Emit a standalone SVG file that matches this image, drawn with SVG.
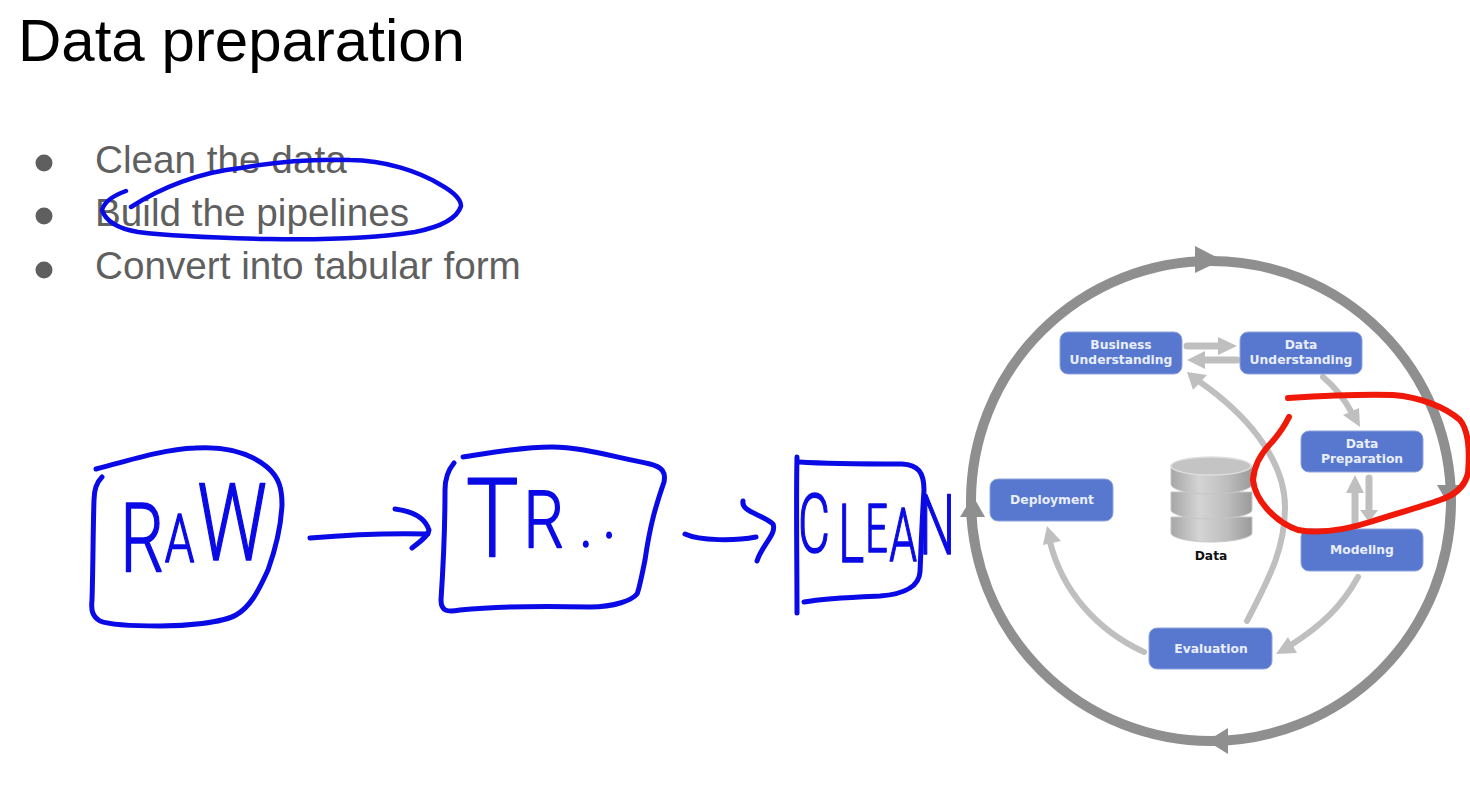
<svg xmlns="http://www.w3.org/2000/svg" width="1470" height="786" viewBox="0 0 1470 786">
<style>
.title{font:60px "Liberation Sans",Arial,sans-serif;fill:#000}
.bul{font:38.7px "Liberation Sans",Arial,sans-serif;fill:#5f5f5f}
.box{fill:#5878cf;stroke:#8ea3dc;stroke-width:1}
.lab{font:bold 12.3px "DejaVu Sans",Verdana,sans-serif;fill:#e9eefa;text-anchor:middle}
.dat{font:bold 12.3px "DejaVu Sans",Verdana,sans-serif;fill:#111;text-anchor:middle}
.ring{fill:none;stroke:#8f8f8f;stroke-width:10}
.ringh{fill:#8f8f8f}
.c{fill:none;stroke:#bfbfbf;stroke-width:6;stroke-linecap:round}
.s{stroke-width:7}
.h{fill:#bfbfbf}
.ink{fill:none;stroke:#0a0ae6;stroke-width:5;stroke-linecap:round;stroke-linejoin:round}
.red{fill:none;stroke:#f01808;stroke-width:6;stroke-linecap:round;stroke-linejoin:round}
.hand{font-family:Roboto,"Liberation Sans",sans-serif;font-weight:300;fill:#0a0ae6;stroke:#0a0ae6;stroke-width:1.6;stroke-linejoin:round}
.tier{fill:url(#g);stroke:#c6c6c6;stroke-width:1}
.cap{fill:#c4c4c4;stroke:#dedede;stroke-width:1.5}
</style>
<defs>
<linearGradient id="g" x1="0" x2="1" y1="0" y2="0">
<stop offset="0" stop-color="#a6a6a6"/><stop offset=".35" stop-color="#d4d4d4"/><stop offset=".7" stop-color="#bdbdbd"/><stop offset="1" stop-color="#9a9a9a"/>
</linearGradient>
</defs>
<rect width="1470" height="786" fill="#fff"/>
<g id="heading">
<text class="title" x="18" y="61">Data preparation</text>
</g>
<g id="bullets">
<circle cx="44" cy="163" r="8.5" fill="#5f5f5f"/>
<circle cx="44" cy="216" r="8.5" fill="#5f5f5f"/>
<circle cx="44" cy="270" r="8.5" fill="#5f5f5f"/>
<text class="bul" x="95" y="173">Clean the data</text>
<text class="bul" x="95" y="226">Build the pipelines</text>
<text class="bul" x="95" y="279">Convert into tabular form</text>
</g>
<g id="cycle-ring">
<circle class="ring" cx="1211" cy="501" r="240"/>
<path class="ringh" d="M1195 246L1222 260L1195 273Z"/>
<path class="ringh" d="M1437 485L1462 485L1450 507Z"/>
<path class="ringh" d="M960 517L985 517L973 496Z"/>
<path class="ringh" d="M1228 728L1228 754L1207 741Z"/>
</g>
<g id="connectors">
<path class="c" d="M1247 621C1268 580 1285 550 1285 507C1285 457 1243 412 1200 382"/>
<path class="h" d="M1187 372L1207 375L1193 390Z"/>
<path class="c" d="M1358 577C1342 606 1322 625 1291 645"/>
<path class="h" d="M1276 654L1288 637L1297 653Z"/>
<path class="c" d="M1144 652C1096 630 1062 590 1050 542"/>
<path class="h" d="M1047 526L1061 541L1043 545Z"/>
<path class="c" d="M1323 377C1336 388 1345 400 1352 413"/>
<path class="h" d="M1360 427L1343 415L1359 408Z"/>
<path class="c s" d="M1187 346H1220"/>
<path class="h" d="M1218 337L1237 346L1218 355Z"/>
<path class="c s" d="M1237 360H1204"/>
<path class="h" d="M1205 351L1187 360L1205 369Z"/>
<path class="c s" d="M1355 529V491" stroke-linecap="butt"/>
<path class="h" d="M1355 475L1364 493L1346 493Z"/>
<path class="c s" d="M1369 478V512"/>
<path class="h" d="M1360 510L1378 510L1369 522Z"/>
</g>
<g id="node-business">
<rect class="box" x="1060" y="332" width="122" height="42" rx="8"/>
<text class="lab" x="1121" y="349">Business</text>
<text class="lab" x="1121" y="364">Understanding</text>
</g>
<g id="node-data-understanding">
<rect class="box" x="1240" y="332" width="122" height="42" rx="8"/>
<text class="lab" x="1301" y="349">Data</text>
<text class="lab" x="1301" y="364">Understanding</text>
</g>
<g id="node-data-preparation">
<rect class="box" x="1301" y="431" width="122" height="41" rx="8"/>
<text class="lab" x="1362" y="448">Data</text>
<text class="lab" x="1362" y="463">Preparation</text>
</g>
<g id="node-deployment">
<rect class="box" x="990" y="479" width="123" height="42" rx="8"/>
<text class="lab" x="1052" y="504">Deployment</text>
</g>
<g id="node-modeling">
<rect class="box" x="1301" y="529" width="122" height="42" rx="8"/>
<text class="lab" x="1362" y="554">Modeling</text>
</g>
<g id="node-evaluation">
<rect class="box" x="1149" y="628" width="123" height="41" rx="8"/>
<text class="lab" x="1211" y="653">Evaluation</text>
</g>
<g id="node-data">
<path class="tier" d="M1171 517V533C1171 538 1190 542 1211 542C1232 542 1252 538 1252 533V517Z"/>
<path class="tier" d="M1171 492V510C1171 515 1190 519 1211 519C1232 519 1252 515 1252 510V492Z"/>
<path class="tier" d="M1171 466V484C1171 490 1190 494 1211 494C1232 494 1252 490 1252 484V466Z"/>
<ellipse class="cap" cx="1211" cy="466" rx="40" ry="9"/>
<text class="dat" x="1211" y="560">Data</text>
</g>
<g id="ink-raw">
<path class="ink" d="M96 469C130 460 165 449 195 448C225 446 250 453 267 467C280 478 282 490 282 505C281 525 277 545 268 570C258 592 250 607 236 615C222 623 185 626 160 626C135 626 110 625 100 621C92 616 91 610 92 600C93 570 93 530 94 500C94 490 97 482 102 477"/>
<text class="hand" font-size="96" transform="translate(118 572) scale(.72 1)"><tspan x="3">R</tspan><tspan x="65" font-size="66" dy="-10">A</tspan><tspan x="110" font-size="108" dy="-2">W</tspan></text>
</g>
<g id="ink-arrow-1">
<path class="ink" d="M310 538C345 535 390 533 428 534"/>
<path class="ink" d="M395 509C412 511 425 518 429 530C428 536 420 542 412 548"/>
</g>
<g id="ink-tr">
<path class="ink" d="M463 457C490 453 520 447 552 447C580 447 610 456 650 464C662 467 666 472 664 482C656 505 650 525 645 560C642 575 639 590 637 594C632 600 615 607 590 607C550 606 500 606 460 610C448 612 441 612 441 600C443 570 445 530 445 490C445 477 449 469 454 463"/>
<text class="hand" font-size="110" transform="translate(466 556) scale(.8 1)"><tspan x="0">T</tspan><tspan x="72" font-size="80" dy="-8">R </tspan><tspan x="142" font-size="70" dy="-1">.</tspan><tspan x="171" font-size="70" dy="-9">.</tspan></text>
</g>
<g id="ink-arrow-2">
<path class="ink" d="M685 534C700 541 735 541 756 537"/>
<path class="ink" d="M743 501C741 512 762 514 773 524C777 534 762 545 757 561"/>
</g>
<g id="ink-clean">
<path class="ink" d="M797 457C796 500 797 560 797 613"/>
<path class="ink" d="M799 462C830 464 870 464 902 464C918 465 924 472 924 490C922 520 921 550 920 572C919 587 905 594 880 596C855 597 825 598 804 602"/>
<text class="hand" font-size="82" transform="translate(798 552) scale(.6 1)"><tspan x="0">C</tspan><tspan x="67" dy="10">L</tspan><tspan x="112" dy="-10" font-size="66">E</tspan><tspan x="152" dy="9" font-size="74">A</tspan><tspan x="202" dy="-7" font-size="84">N</tspan></text>
</g>
<g id="ink-circle">
<path class="ink" d="M131 207C160 188 200 172 241 168C280 161 320 159 350 160C385 160 420 172 441 185C455 193 461 200 461 206C458 216 445 226 415 232C375 238 320 240 269 239C220 238 170 236 138 232C120 229 106 222 102 210C104 203 112 196 126 191" style="stroke-width:4.5"/>
</g>
<g id="ink-red">
<path class="red" d="M1288 398C1320 396 1360 394 1393 395C1420 397 1445 407 1460 420C1468 430 1470 450 1468 473C1465 487 1455 495 1440 500C1420 507 1395 514 1370 522C1345 530 1320 534 1298 530C1275 522 1255 500 1253 480C1254 465 1262 452 1272 442C1279 434 1285 425 1289 417"/>
</g>
</svg>
